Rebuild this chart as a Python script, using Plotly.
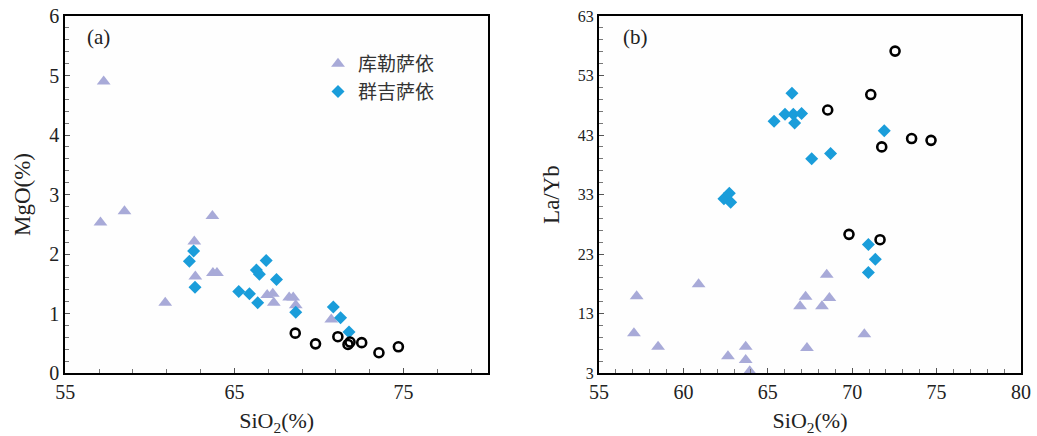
import plotly.graph_objects as go

# ---- Panel (a): SiO2 vs MgO ----
kl_a_sio2 = [57.27, 57.08, 58.50, 60.91, 62.63, 62.69, 63.70, 63.73, 63.97, 66.94, 67.27, 67.33, 68.24, 68.48, 68.63, 70.73]
kl_a_mgo = [4.90, 2.53, 2.72, 1.18, 2.21, 1.62, 2.64, 1.68, 1.68, 1.31, 1.33, 1.18, 1.27, 1.27, 1.14, 0.90]

qj_a_sio2 = [62.34, 62.59, 62.67, 65.26, 65.89, 66.38, 66.30, 66.48, 66.88, 67.49, 68.63, 70.85, 71.28, 71.78]
qj_a_mgo = [1.88, 2.05, 1.44, 1.37, 1.33, 1.18, 1.73, 1.66, 1.89, 1.57, 1.02, 1.11, 0.93, 0.69]

ot_a_sio2 = [68.60, 69.80, 71.12, 71.72, 71.84, 72.53, 73.55, 74.70]
ot_a_mgo = [0.67, 0.49, 0.61, 0.48, 0.52, 0.51, 0.34, 0.44]

# ---- Panel (b): SiO2 vs La/Yb ----
kl_b_sio2 = [57.23, 57.07, 58.50, 60.90, 62.64, 63.69, 63.69, 63.93, 66.91, 67.24, 67.32, 68.21, 68.49, 68.65, 70.72]
kl_b_layb = [15.9, 9.7, 7.4, 17.9, 5.8, 7.4, 5.2, 3.3, 14.2, 15.8, 7.2, 14.2, 19.5, 15.6, 9.5]

qj_b_sio2 = [66.43, 65.37, 66.02, 66.51, 67.00, 66.59, 67.60, 68.72, 71.90, 62.40, 62.72, 62.80, 70.96, 71.37, 70.96]
qj_b_layb = [50.0, 45.3, 46.5, 46.5, 46.6, 45.0, 39.0, 39.9, 43.7, 32.3, 33.2, 31.7, 24.6, 22.1, 19.9]

ot_b_sio2 = [72.54, 71.10, 68.55, 71.75, 73.52, 74.67, 69.81, 71.65]
ot_b_layb = [57.1, 49.8, 47.2, 41.0, 42.4, 42.1, 26.3, 25.4]

names = ["库勒萨依", "群吉萨依"]
tri_color = "#A8AAD8"
dia_color = "#1A9DDA"

tri_marker = dict(symbol="triangle-up", size=12, color=tri_color)
dia_marker = dict(symbol="diamond", size=10, color=dia_color)
cir_marker = dict(symbol="circle-open", size=9, color="black", line=dict(width=2.6, color="black"))

fig = go.Figure()
fig.add_trace(go.Scatter(x=kl_a_sio2, y=kl_a_mgo, mode="markers", name=names[0],
                         marker=tri_marker, xaxis="x", yaxis="y", legendgroup="kl"))
fig.add_trace(go.Scatter(x=qj_a_sio2, y=qj_a_mgo, mode="markers", name=names[1],
                         marker=dia_marker, xaxis="x", yaxis="y", legendgroup="qj"))
fig.add_trace(go.Scatter(x=ot_a_sio2, y=ot_a_mgo, mode="markers", showlegend=False,
                         marker=cir_marker, xaxis="x", yaxis="y"))
fig.add_trace(go.Scatter(x=kl_b_sio2, y=kl_b_layb, mode="markers", name=names[0], showlegend=False,
                         marker=tri_marker, xaxis="x2", yaxis="y2", legendgroup="kl"))
fig.add_trace(go.Scatter(x=qj_b_sio2, y=qj_b_layb, mode="markers", name=names[1], showlegend=False,
                         marker=dia_marker, xaxis="x2", yaxis="y2", legendgroup="qj"))
fig.add_trace(go.Scatter(x=ot_b_sio2, y=ot_b_layb, mode="markers", showlegend=False,
                         marker=cir_marker, xaxis="x2", yaxis="y2"))

W, H = 1037, 436
serif = "Liberation Serif, Times New Roman, serif"
axis_common = dict(showline=True, linecolor="black", linewidth=2, mirror=True, ticks="inside",
                   ticklen=5, tickcolor="#555", showgrid=False, zeroline=False, automargin=False,
                   ticklabeloverflow="allow",
                   tickfont=dict(family=serif, size=20, color="#222"))

ydom = [(H - 373) / H, (H - 16) / H]
fig.update_layout(
    width=W, height=H, margin=dict(l=0, r=0, t=0, b=0),
    paper_bgcolor="white", plot_bgcolor="#FEFEFE",
    font=dict(family=serif, color="#222"),
    xaxis=dict(domain=[65.3 / W, 488 / W], range=[55, 80], tickvals=[55, 65, 75],
               minor=dict(dtick=2, tick0=55, ticks="inside", ticklen=4, tickcolor="#777"),
               title=dict(text="SiO<sub>2</sub>(%)", font=dict(family=serif, size=22), standoff=11),
               anchor="y", **axis_common),
    yaxis=dict(domain=ydom, range=[0, 6], dtick=1,
               minor=dict(dtick=0.2, ticks="inside", ticklen=4, tickcolor="#777"),
               title=dict(text="MgO(%)", font=dict(family=serif, size=23), standoff=12),
               anchor="x", **axis_common),
    xaxis2=dict(domain=[599 / W, 1021 / W], range=[55, 80], dtick=5,
                minor=dict(dtick=1, ticks="inside", ticklen=4, tickcolor="#777"),
                title=dict(text="SiO<sub>2</sub>(%)", font=dict(family=serif, size=22), standoff=11),
                anchor="y2", **axis_common),
    yaxis2=dict(domain=ydom, range=[3, 63], tickvals=[3, 13, 23, 33, 43, 53, 63],
                minor=dict(dtick=2, tick0=3, ticks="inside", ticklen=4, tickcolor="#777"),
                title=dict(text="La/Yb", font=dict(family=serif, size=23), standoff=12),
                anchor="x2", **axis_common),
    legend=dict(x=318 / W, y=(H - 45) / H, xanchor="left", yanchor="top",
                bgcolor="rgba(0,0,0,0)", borderwidth=0,
                font=dict(family="Noto Sans CJK SC", size=19, color="#333"),
                itemsizing="trace", tracegroupgap=0),
    annotations=[
        dict(text="(a)", x=98 / W, y=(H - 37) / H, xref="paper", yref="paper",
             xanchor="center", yanchor="middle",
             showarrow=False, font=dict(family=serif, size=21, color="#222")),
        dict(text="(b)", x=635 / W, y=(H - 37) / H, xref="paper", yref="paper",
             xanchor="center", yanchor="middle",
             showarrow=False, font=dict(family=serif, size=21, color="#222")),
    ],
)
fig.update_yaxes(tickfont=dict(size=16), selector=dict(anchor="x2"))

fig.write_html("out.html", config={"displayModeBar": False},
               post_script="document.body.style.margin='0';document.body.style.padding='0';document.body.style.overflow='hidden';")
